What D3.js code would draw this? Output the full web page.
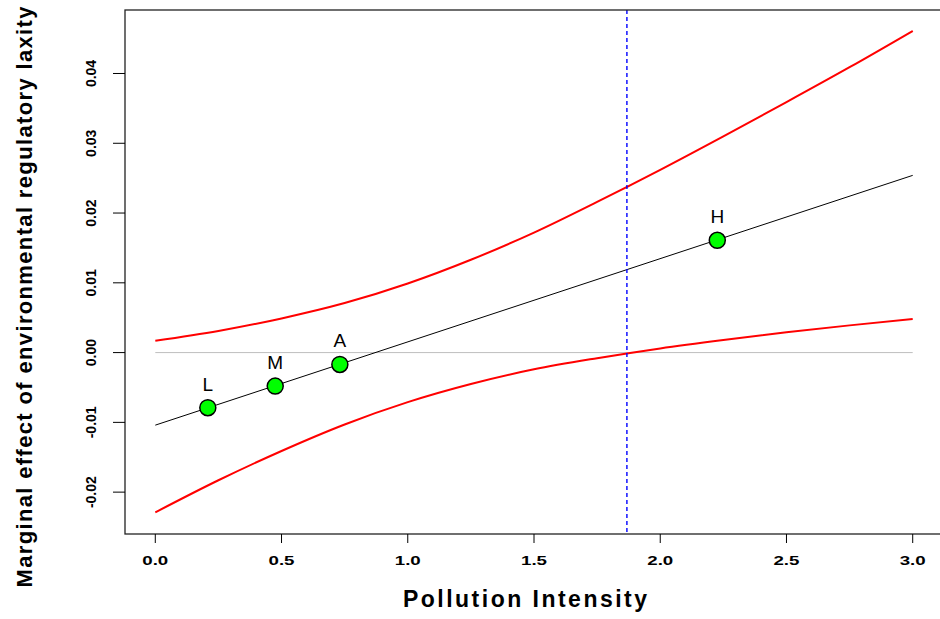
<!DOCTYPE html>
<html lang="en">
<head>
<meta charset="UTF-8">
<title>Marginal effect</title>
<script src="https://d3js.org/d3.v7.min.js"></script>
<style>
  body { margin: 0; background: #fff; }
  text { font-family: "Liberation Sans", Arial, sans-serif; }
  .tick-label { font-weight: bold; fill: #000; }
  .axis-title { font-weight: bold; fill: #000; }
  .pt-label { font-size: 19px; fill: #000; }
</style>
</head>
<body>
<svg width="940" height="619"></svg>
<script>
// values
const gridX = [0, 0.25, 0.5, 0.75, 1.0, 1.25, 1.5, 1.75, 2.0, 2.25, 2.5, 2.75, 3.0];
const upper = [0.0017, 0.0031, 0.0049, 0.0071, 0.0099, 0.0133, 0.0172, 0.0216, 0.0262, 0.0310, 0.0359, 0.0409, 0.0461];
const lower = [-0.0229, -0.0183, -0.0141, -0.0103, -0.0071, -0.0045, -0.0024, -0.0008, 0.0006, 0.0018, 0.0029, 0.0039, 0.0048];
const lineX = [0, 3];
const lineY = [-0.0104, 0.0254];
const ptNames = ["L", "M", "A", "H"];
const ptX = [0.208, 0.475, 0.731, 2.226];
const ptY = [-0.0079, -0.0048, -0.0017, 0.0161];
const cutoff = 1.868;
const xTicks = [0, 0.5, 1.0, 1.5, 2.0, 2.5, 3.0];
const yTicks = [-0.02, -0.01, 0, 0.01, 0.02, 0.03, 0.04];

const svg = d3.select("svg");

// plot box like R (4% padding)
const box = {left: 125, right: 943, top: 10, bottom: 534};
const x = d3.scaleLinear().domain([-0.12, 3.12]).range([box.left, box.right]);
const y = d3.scaleLinear().domain([-0.0260, 0.0491]).range([box.bottom, box.top]);

// zero line
svg.append("line")
  .attr("x1", x(0)).attr("x2", x(3))
  .attr("y1", y(0)).attr("y2", y(0))
  .attr("stroke", "#bebebe").attr("stroke-width", 1);

// confidence bands
const band = d3.line().x((d, i) => x(gridX[i])).y(d => y(d)).curve(d3.curveMonotoneX);
[upper, lower].forEach(s => {
  svg.append("path").attr("d", band(s))
    .attr("fill", "none").attr("stroke", "#ff0000").attr("stroke-width", 2);
});

// marginal effect line
svg.append("line")
  .attr("x1", x(lineX[0])).attr("x2", x(lineX[1]))
  .attr("y1", y(lineY[0])).attr("y2", y(lineY[1]))
  .attr("stroke", "#000").attr("stroke-width", 1);

// cutoff
svg.append("line")
  .attr("x1", x(cutoff)).attr("x2", x(cutoff))
  .attr("y1", box.top).attr("y2", box.bottom)
  .attr("stroke", "#0000ff").attr("stroke-width", 1.4)
  .attr("stroke-dasharray", "4,3");

// points
const pts = svg.selectAll(".pt").data(ptNames).enter().append("g")
  .attr("transform", (d, i) => `translate(${x(ptX[i])},${y(ptY[i])})`);
pts.append("circle").attr("r", 8)
  .attr("fill", "#00ff00").attr("stroke", "#000").attr("stroke-width", 1.5);
pts.append("text").attr("class", "pt-label")
  .attr("y", -17).attr("text-anchor", "middle").text(d => d);

// box
svg.append("rect")
  .attr("x", box.left).attr("y", box.top)
  .attr("width", box.right - box.left).attr("height", box.bottom - box.top)
  .attr("fill", "none").attr("stroke", "#222").attr("stroke-width", 1.3);

// x axis
const xa = svg.append("g");
xa.selectAll("line").data(xTicks).enter().append("line")
  .attr("x1", d => x(d)).attr("x2", d => x(d))
  .attr("y1", box.bottom).attr("y2", box.bottom + 9)
  .attr("stroke", "#000");
xa.selectAll("text").data(xTicks).enter().append("text")
  .attr("class", "tick-label")
  .style("font-size", "12px")
  .attr("x", d => x(d)).attr("y", 565)
  .attr("text-anchor", "middle")
  .attr("textLength", 26).attr("lengthAdjust", "spacingAndGlyphs")
  .text(d => d.toFixed(1));

// y axis
const ya = svg.append("g");
ya.selectAll("line").data(yTicks).enter().append("line")
  .attr("x1", box.left - 12).attr("x2", box.left)
  .attr("y1", d => y(d)).attr("y2", d => y(d))
  .attr("stroke", "#000");
ya.selectAll("text").data(yTicks).enter().append("text")
  .attr("class", "tick-label")
  .style("font-size", "14px")
  .attr("transform", d => `translate(96,${y(d)}) rotate(-90)`)
  .attr("text-anchor", "middle").text(d => d.toFixed(2));

// titles
svg.append("text").attr("class", "axis-title")
  .attr("x", 525).attr("y", 607).attr("text-anchor", "middle")
  .style("font-size", "23px")
  .attr("textLength", 244).attr("lengthAdjust", "spacing")
  .text("Pollution Intensity");
svg.append("text").attr("class", "axis-title")
  .attr("transform", "translate(32,297) rotate(-90)")
  .attr("text-anchor", "middle").style("font-size", "22px")
  .attr("textLength", 581).attr("lengthAdjust", "spacing")
  .text("Marginal effect of environmental regulatory laxity");
</script>
</body>
</html>
